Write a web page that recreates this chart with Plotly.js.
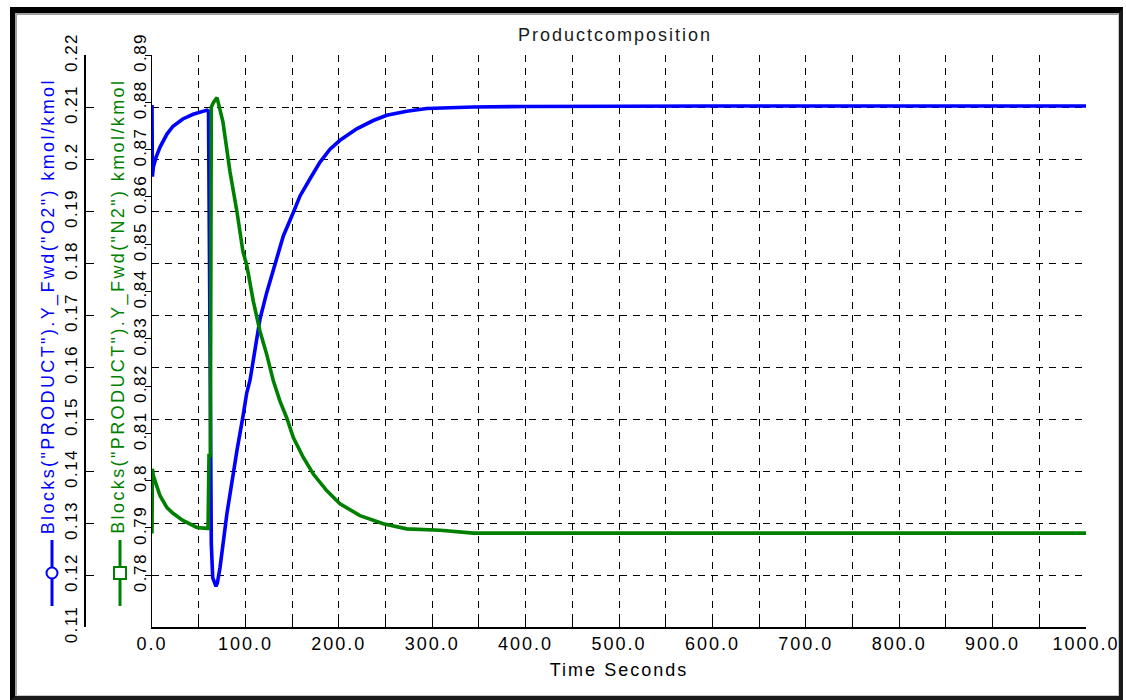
<!DOCTYPE html>
<html>
<head>
<meta charset="utf-8">
<script src="https://cdn.plot.ly/plotly-3.0.1.min.js"></script>
<style>
  html, body { margin: 0; padding: 0; background: #fff; }
  #wrap { position: relative; width: 1126px; height: 700px; overflow: hidden; }
  #chart { position: absolute; left: 0; top: 0; width: 1126px; height: 700px; }
  #frame {
    position: absolute; left: 10px; top: 7px; width: 1113px; height: 693px;
    box-sizing: border-box; pointer-events: none;
    border-left: 5px solid #000; border-top: 6px solid #000;
    border-right: 4px solid #1a1a1a; border-bottom: 4px solid #1a1a1a;
  }
  #frame::after {
    content: ''; position: absolute; left: 0; top: 0; right: 0; bottom: 0;
    border-left: 2px solid #a0a0a0; border-top: 2px solid #a0a0a0;
    border-right: 1px solid #c8c8c8; border-bottom: 1px solid #c8c8c8;
  }
  #chart .xtick text, #chart .gtitle, #chart .xtitle { letter-spacing: 2px; }
  #chart .ytick text, #chart .y2tick text { letter-spacing: 1.5px; }
  #chart .annotation-text { letter-spacing: 2.4px; }
</style>
</head>
<body>
<div id="wrap">
  <div id="chart"></div>
  <div id="frame"></div>
</div>
<script>
// Time axis (seconds)
const xTickVals = [0, 50, 100, 150, 200, 250, 300, 350, 400, 450, 500,
                   550, 600, 650, 700, 750, 800, 850, 900, 950, 1000];
const xTickText = ['0.0', '', '100.0', '', '200.0', '', '300.0', '', '400.0', '', '500.0',
                   '', '600.0', '', '700.0', '', '800.0', '', '900.0', '', '1000.0'];

// O2 mole fraction in the product stream
const o2Time = [0, 0.4, 1.5, 3, 4.3, 8.6, 16, 22.5, 33, 44,
                52, 59, 60.5, 61.5, 62.5, 63.5, 65, 67, 68.5, 70,
                72.8, 80.3, 86, 91, 97.4, 101.4, 105, 108.5, 115.6, 122.8,
                128.2, 133.5, 140.6, 151.3, 158.5, 169.2, 179.9, 190.6, 201.3, 219.2,
                236.9, 251.3, 272.7, 294.1, 320, 344, 400, 600, 1000];
const o2Frac = [0.2104, 0.1966, 0.1985, 0.1995, 0.2003, 0.2023, 0.2048, 0.2063, 0.2077, 0.2086,
                0.2091, 0.2094, 0.2092, 0.1800, 0.1500, 0.1260, 0.1195, 0.1182, 0.1178, 0.1185,
                0.1214, 0.1319, 0.1385, 0.1440, 0.1505, 0.1550, 0.1575, 0.1614, 0.1692, 0.1743,
                0.1775, 0.1807, 0.1852, 0.1897, 0.1929, 0.1962, 0.1994, 0.2019, 0.2036, 0.2058,
                0.2074, 0.2084, 0.2092, 0.2097, 0.2099, 0.2100, 0.2101, 0.2102, 0.2102];

// N2 mole fraction in the product stream
const n2Time = [0, 0.4, 1.5, 4.3, 8.6, 16, 22.5, 33, 48, 59,
                60, 61, 62.5, 63.5, 66, 69.6, 72, 76, 83.5, 91,
                97.4, 101.4, 108.5, 115.6, 122.8, 129.9, 137, 144.2, 151.3, 162,
                172.7, 187, 201.3, 222.7, 247.6, 272.7, 308.4, 344, 400, 1000];
const n2Frac = [0.7888, 0.8025, 0.8010, 0.7994, 0.7968, 0.7943, 0.7931, 0.7916, 0.7901, 0.7899,
                0.7899, 0.8053, 0.8053, 0.8790, 0.8800, 0.8810, 0.8790, 0.8758, 0.8653, 0.8568,
                0.8484, 0.8456, 0.8379, 0.8316, 0.8267, 0.8211, 0.8168, 0.8133, 0.8091, 0.8049,
                0.8014, 0.7979, 0.7951, 0.7926, 0.7909, 0.7898, 0.7895, 0.7889, 0.7889, 0.7889];

// Axis tick labels
const o2TickVals = [0.11, 0.12, 0.13, 0.14, 0.15, 0.16, 0.17, 0.18, 0.19, 0.20, 0.21, 0.22];
const o2TickText = ['0.11', '0.12', '0.13', '0.14', '0.15', '0.16', '0.17', '0.18', '0.19', '0.2', '0.21', '0.22'];
const n2TickVals = [0.78, 0.79, 0.80, 0.81, 0.82, 0.83, 0.84, 0.85, 0.86, 0.87, 0.88, 0.89];
const n2TickText = ['0.78', '0.79', '0.8', '0.81', '0.82', '0.83', '0.84', '0.85', '0.86', '0.87', '0.88', '0.89'];

const O2_NAME = 'Blocks("PRODUCT").Y_Fwd("O2") kmol/kmol';
const N2_NAME = 'Blocks("PRODUCT").Y_Fwd("N2") kmol/kmol';
const BLUE = '#0000ff';
const GREEN = '#008000';
const FONT = '"Liberation Sans", Arial, Helvetica, sans-serif';

// Page geometry (pixels)
const W = 1126, H = 700;
const M = { l: 60, r: 40, t: 55, b: 73 };
const plotLeft = 152;
const paperW = W - M.l - M.r;
const paperH = H - M.t - M.b;
const px = v => (v - M.l) / paperW;
const py = v => (H - M.b - v) / paperH;

const traces = [
  { x: o2Time, y: o2Frac, name: O2_NAME, type: 'scatter', mode: 'lines',
    line: { color: BLUE, width: 3.6 }, xaxis: 'x', yaxis: 'y' },
  { x: n2Time, y: n2Frac, name: N2_NAME, type: 'scatter', mode: 'lines',
    line: { color: GREEN, width: 3.6 }, xaxis: 'x', yaxis: 'y2' }
];

const gridDash = '7px,6px';

const layout = {
  width: W, height: H,
  margin: { l: M.l, r: M.r, t: M.t, b: M.b, pad: 0 },
  paper_bgcolor: 'rgba(0,0,0,0)', plot_bgcolor: '#fff',
  font: { family: FONT, size: 18, color: '#000' },
  showlegend: false,
  title: {
    text: 'Productcomposition',
    font: { family: FONT, size: 18, color: '#1a1a1a' },
    xref: 'paper', x: px(615), xanchor: 'center',
    yref: 'container', y: 1 - 35 / H, yanchor: 'middle'
  },
  xaxis: {
    domain: [px(plotLeft), 1],
    range: [0, 1000],
    tickmode: 'array', tickvals: xTickVals, ticktext: xTickText,
    ticks: 'inside', ticklen: 7, tickwidth: 1, tickcolor: '#000',
    showline: true, linecolor: '#000', linewidth: 1.5,
    showgrid: true, gridcolor: '#000', gridwidth: 1, griddash: gridDash,
    zeroline: false,
    tickfont: { family: FONT, size: 18, color: '#000' },
    title: { text: 'Time Seconds', font: { family: FONT, size: 18, color: '#000' }, standoff: 10 }
  },
  yaxis: {
    range: [0.11, 0.22],
    anchor: 'free', position: px(84), side: 'left',
    tickmode: 'array', tickvals: o2TickVals, ticktext: o2TickText,
    tickangle: -90,
    ticks: 'inside', ticklen: 8, tickwidth: 1, tickcolor: '#000',
    showline: true, linecolor: '#000', linewidth: 1.5,
    showgrid: true, gridcolor: '#000', gridwidth: 1, griddash: gridDash,
    zeroline: false,
    tickfont: { family: FONT, size: 17, color: '#000' }
  },
  yaxis2: {
    range: [0.76905, 0.8900],
    overlaying: 'y', anchor: 'x', side: 'left',
    tickmode: 'array', tickvals: n2TickVals, ticktext: n2TickText,
    tickangle: -90,
    ticks: 'outside', ticklen: 6, tickwidth: 1, tickcolor: '#000',
    ticklabelstandoff: -8,
    showline: true, linecolor: '#000', linewidth: 1.5,
    showgrid: false, zeroline: false,
    tickfont: { family: FONT, size: 17, color: '#000' }
  },
  annotations: [
    { text: O2_NAME, xref: 'paper', yref: 'paper', x: px(47.5), y: py(306),
      xanchor: 'center', yanchor: 'middle', textangle: -90, showarrow: false,
      font: { family: FONT, size: 18, color: BLUE } },
    { text: N2_NAME, xref: 'paper', yref: 'paper', x: px(118), y: py(306),
      xanchor: 'center', yanchor: 'middle', textangle: -90, showarrow: false,
      font: { family: FONT, size: 18, color: GREEN } }
  ],
  shapes: [
    // series key: blue line with open circle
    { type: 'line', xref: 'paper', yref: 'paper', x0: px(52), x1: px(52), y0: py(540), y1: py(606),
      line: { color: BLUE, width: 3 } },
    { type: 'circle', xref: 'paper', yref: 'paper', x0: px(46.5), x1: px(57.5), y0: py(567.5), y1: py(578.5),
      fillcolor: '#fff', line: { color: BLUE, width: 2 } },
    // series key: green line with open square
    { type: 'line', xref: 'paper', yref: 'paper', x0: px(120), x1: px(120), y0: py(540), y1: py(606),
      line: { color: GREEN, width: 3 } },
    { type: 'rect', xref: 'paper', yref: 'paper', x0: px(114), x1: px(126), y0: py(567), y1: py(579),
      fillcolor: '#fff', line: { color: GREEN, width: 2 } }
  ]
};

Plotly.newPlot('chart', traces, layout, { staticPlot: true, displayModeBar: false });
</script>
</body>
</html>
